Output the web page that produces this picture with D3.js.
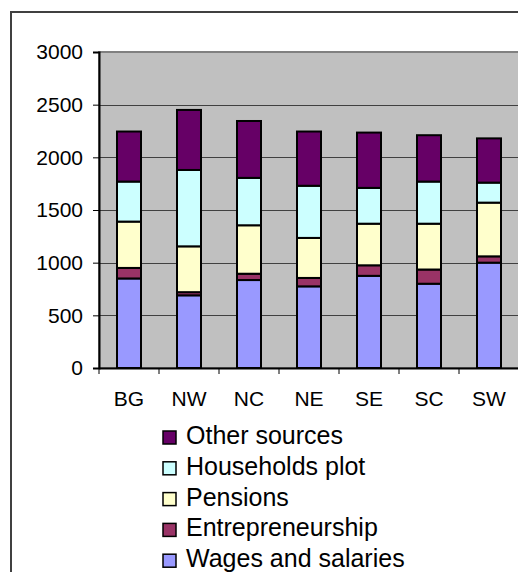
<!DOCTYPE html>
<html>
<head>
<meta charset="utf-8">
<script src="https://cdn.jsdelivr.net/npm/d3@7"></script>
<style>
  body { margin: 0; background: #fff; }
  svg { display: block; font-family: "Liberation Sans", Arial, sans-serif; }
</style>
</head>
<body>
<svg id="chart" width="518" height="572"></svg>
<script>
// regions on the x axis
const regions = ["BG", "NW", "NC", "NE", "SE", "SC", "SW"];

// income sources, bottom to top of each stack
const wages = [850, 690, 835, 775, 875, 800, 1000];
const entrepreneurship = [100, 30, 60, 80, 100, 135, 60];
const pensions = [440, 435, 460, 380, 395, 435, 510];
const householdsPlot = [380, 725, 450, 495, 340, 400, 190];
const otherSources = [475, 570, 540, 515, 525, 440, 420];

const yTicks = [0, 500, 1000, 1500, 2000, 2500, 3000];

const seriesNames = ["Wages and salaries", "Entrepreneurship", "Pensions", "Households plot", "Other sources"];
const seriesValues = [wages, entrepreneurship, pensions, householdsPlot, otherSources];
const colors = ["#9999ff", "#993366", "#ffffcc", "#ccffff", "#660066"];

const svg = d3.select("#chart");

// outer chart frame (right and bottom run off the picture)
svg.append("rect")
  .attr("x", 11).attr("y", 12)
  .attr("width", 540).attr("height", 600)
  .attr("fill", "#fff")
  .attr("stroke", "#404040")
  .attr("stroke-width", 2);

const plot = {left: 99, right: 519, top: 52, bottom: 368};

const x = d3.scaleBand()
  .domain(regions)
  .range([plot.left, plot.right])
  .paddingInner(0.6)
  .paddingOuter(0.3);

const y = d3.scaleLinear()
  .domain([0, 3000])
  .range([plot.bottom, plot.top]);

// grey plot area
svg.append("rect")
  .attr("x", plot.left).attr("y", plot.top)
  .attr("width", plot.right - plot.left)
  .attr("height", plot.bottom - plot.top)
  .attr("fill", "#c0c0c0")
  .attr("stroke", "#808080")
  .attr("stroke-width", 2);

// gridlines
svg.append("g")
  .selectAll("line")
  .data(yTicks.filter(d => d > 0 && d < 3000))
  .join("line")
  .attr("x1", plot.left).attr("x2", plot.right)
  .attr("y1", d => Math.round(y(d)) + 0.5)
  .attr("y2", d => Math.round(y(d)) + 0.5)
  .attr("stroke", "#404040")
  .attr("stroke-width", 1);

// stacked data
const table = regions.map((r, i) => {
  const row = {region: r};
  seriesNames.forEach((s, k) => row[s] = seriesValues[k][i]);
  return row;
});
const stacked = d3.stack().keys(seriesNames)(table);

svg.append("g")
  .selectAll("g")
  .data(stacked)
  .join("g")
  .attr("fill", (d, i) => colors[i])
  .selectAll("rect")
  .data(d => d)
  .join("rect")
  .attr("x", d => x(d.data.region))
  .attr("y", d => y(d[1]))
  .attr("width", x.bandwidth())
  .attr("height", d => y(d[0]) - y(d[1]))
  .attr("stroke", "#000")
  .attr("stroke-width", 2);

// y axis
const yAxis = svg.append("g")
  .attr("transform", `translate(${plot.left},0)`)
  .call(d3.axisLeft(y).tickValues(yTicks).tickFormat(d3.format("d")).tickSize(6).tickPadding(10));
yAxis.select(".domain").attr("stroke", "#000").attr("stroke-width", 2);
yAxis.selectAll(".tick line").attr("stroke", "#000");
yAxis.selectAll("text")
  .attr("font-size", 21)
  .attr("fill", "#000");

// x axis with tick marks between categories
const xAxis = svg.append("g")
  .attr("transform", `translate(0,${plot.bottom})`)
  .call(d3.axisBottom(x).tickSize(0).tickPadding(23));
xAxis.select(".domain").attr("stroke", "#000").attr("stroke-width", 2);
xAxis.selectAll("text")
  .attr("font-size", 21)
  .attr("fill", "#000");
xAxis.append("g")
  .selectAll("line")
  .data(regions)
  .join("line")
  .attr("x1", d => x(d) - x.step() * x.paddingInner() / 2)
  .attr("x2", d => x(d) - x.step() * x.paddingInner() / 2)
  .attr("y1", 0).attr("y2", 6)
  .attr("stroke", "#000");

// legend, top to bottom
const legendOrder = seriesNames.map((n, i) => ({name: n, color: colors[i]})).reverse();
const legend = svg.append("g")
  .selectAll("g")
  .data(legendOrder)
  .join("g")
  .attr("transform", (d, i) => `translate(163,${444 + i * 30.8})`);
legend.append("rect")
  .attr("x", 0).attr("y", -13)
  .attr("width", 13).attr("height", 13)
  .attr("fill", d => d.color)
  .attr("stroke", "#000")
  .attr("stroke-width", 1.5);
legend.append("text")
  .attr("x", 23).attr("y", 0)
  .attr("font-size", 25)
  .attr("fill", "#000")
  .text(d => d.name);
</script>
</body>
</html>
